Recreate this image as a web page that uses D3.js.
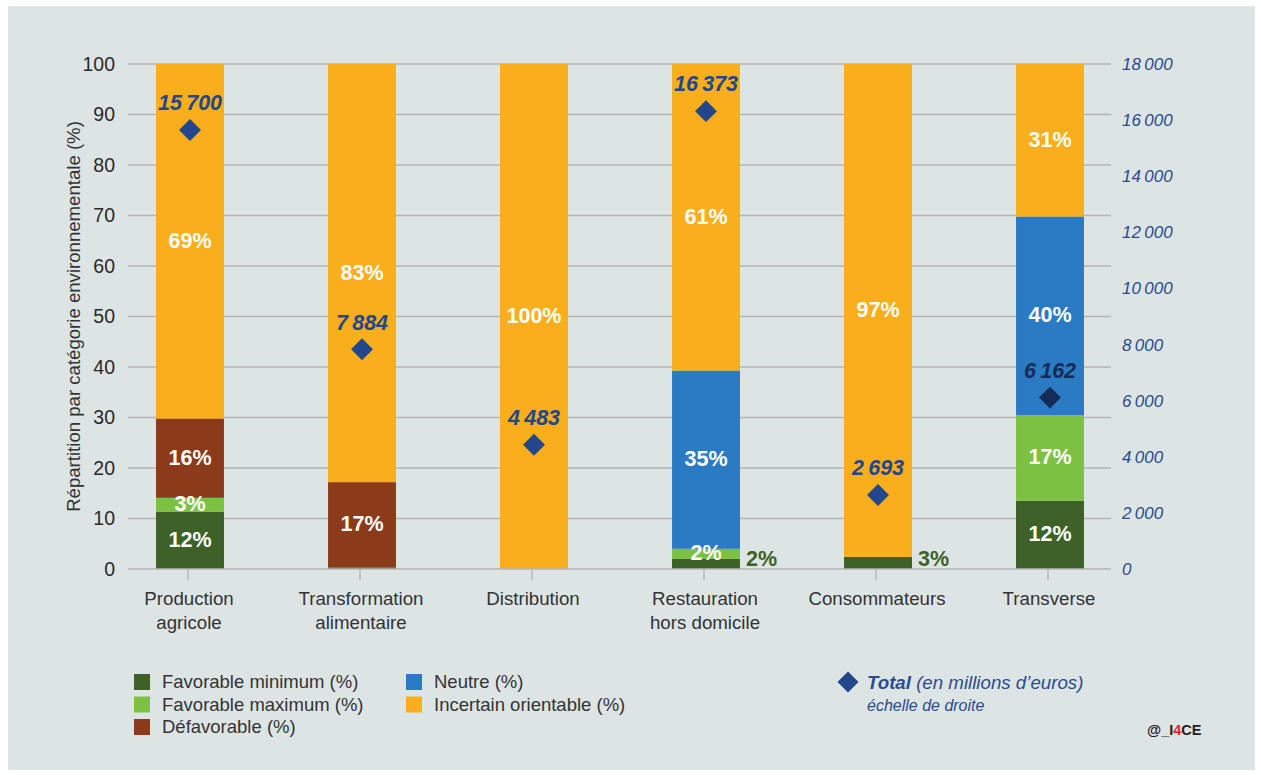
<!DOCTYPE html>
<html>
<head>
<meta charset="utf-8">
<script src="https://cdn.jsdelivr.net/npm/d3@7"></script>
<style>
html,body{margin:0;padding:0;background:#ffffff;}
svg{display:block;font-family:"Liberation Sans",Arial,Helvetica,sans-serif;}
</style>
</head>
<body>
<svg id="chart" width="1261" height="775"></svg>
<script>
// ---- Data ----
const categories = [["Production","agricole"],["Transformation","alimentaire"],["Distribution"],["Restauration","hors domicile"],["Consommateurs"],["Transverse"]];
const seriesNames = ["Favorable minimum (%)","Favorable maximum (%)","Défavorable (%)","Neutre (%)","Incertain orientable (%)"];
const favMin    = [11.3, 0.3, 0, 2.0, 2.4, 13.5];
const favMax    = [2.8, 0, 0, 2.0, 0, 17.0];
const defav     = [15.7, 16.9, 0, 0, 0, 0];
const neutre    = [0, 0, 0, 35.3, 0, 39.3];
const incertain = [70.2, 82.8, 100, 60.7, 97.6, 30.2];
const favMinLabels    = ["12%", "", "", "2%", "3%", "12%"];
const favMaxLabels    = ["3%", "", "", "2%", "", "17%"];
const defavLabels     = ["16%", "17%", "", "", "", ""];
const neutreLabels    = ["", "", "", "35%", "", "40%"];
const incertainLabels = ["69%", "83%", "100%", "61%", "97%", "31%"];
const totals = [15700, 7884, 4483, 16373, 2693, 6162];
const leftTicks = [0,10,20,30,40,50,60,70,80,90,100];
const rightTicks = [0,2000,4000,6000,8000,10000,12000,14000,16000,18000];

// ---- Styles ----
const colors = ["#3d6126","#7dc142","#8b3a1a","#2a7bc3","#f9ae1b"];
const bg = "#dde5e4";
const navy = "#23478d";
const navyDark = "#142d58";
const gridColor = "#b3b5b5";

const svg = d3.select("#chart");
svg.append("rect").attr("x",8).attr("y",6).attr("width",1247).attr("height",764).attr("fill",bg);

const gridX0 = 128, gridX1 = 1111;
const y = d3.scaleLinear().domain([0,100]).range([569,64]);
const yR = d3.scaleLinear().domain([0,18000]).range([569,64]);
const x = d3.scaleBand().domain(d3.range(categories.length)).range([104,1136]).paddingInner(0.605).paddingOuter(0.3025);

// gridlines
svg.append("g").selectAll("line").data(leftTicks.filter(d=>d>0)).join("line")
  .attr("x1",gridX0).attr("x2",gridX1).attr("y1",d=>y(d)).attr("y2",d=>y(d))
  .attr("stroke",gridColor).attr("stroke-width",1.4);

// left axis labels
const leftAxis = d3.axisLeft(y).tickValues(leftTicks).tickSize(0).tickPadding(0);
const gL = svg.append("g").attr("transform",`translate(${gridX0-13},0)`).call(leftAxis);
gL.select(".domain").remove();
gL.selectAll("text").attr("font-size",19.5).attr("fill","#2a2a2a").attr("font-family","Liberation Sans, Arial, sans-serif");

// right axis labels
const rightAxis = d3.axisRight(yR).tickValues(rightTicks).tickSize(0).tickPadding(0)
  .tickFormat(d => d3.format(",")(d).replace(/,/g,"\u202F"));
const gR = svg.append("g").attr("transform",`translate(1122,0)`).call(rightAxis);
gR.select(".domain").remove();
gR.selectAll("text").attr("font-size",17).attr("fill","#2b4b8f").attr("font-style","italic").attr("font-family","Liberation Sans, Arial, sans-serif");

// stacked bars
const rows = categories.map((c,i)=>({i, v:[favMin[i],favMax[i],defav[i],neutre[i],incertain[i]]}));
const labelsBySeries = [favMinLabels,favMaxLabels,defavLabels,neutreLabels,incertainLabels];
const stack = d3.stack().keys([0,1,2,3,4]).value((d,k)=>d.v[k]);
const stacked = stack(rows);

const gBars = svg.append("g");
stacked.forEach((layer,k)=>{
  gBars.selectAll(null).data(layer.filter(d=>d[1]-d[0]>0)).join("rect")
    .attr("x",d=>x(d.data.i)).attr("width",x.bandwidth())
    .attr("y",d=>y(d[1])).attr("height",d=>y(d[0])-y(d[1]))
    .attr("fill",colors[k]);
});

// x axis line & ticks
svg.append("line").attr("x1",gridX0).attr("x2",gridX1).attr("y1",y(0)).attr("y2",y(0)).attr("stroke",gridColor).attr("stroke-width",1.4);
const xAxis = d3.axisBottom(x).tickSize(11).tickFormat("");
const gX = svg.append("g").attr("transform",`translate(-2,${y(0)})`).call(xAxis);
gX.select(".domain").remove();
gX.selectAll("line").attr("stroke",gridColor).attr("stroke-width",1.4);

// category labels
const gC = svg.append("g");
categories.forEach((lines,i)=>{
  const t = gC.append("text").attr("x",x(i)+x.bandwidth()/2-1).attr("y",605)
    .attr("text-anchor","middle").attr("font-size",18.7).attr("fill","#333");
  lines.forEach((l,j)=>t.append("tspan").attr("x",x(i)+x.bandwidth()/2-1).attr("dy",j===0?0:23.5).text(l));
});

// segment labels
const gLab = svg.append("g").attr("font-weight","bold").attr("font-size",21.5);
stacked.forEach((layer,k)=>{
  layer.forEach(d=>{
    const lab = labelsBySeries[k][d.data.i];
    if(!lab) return;
    const h = d[1]-d[0];
    if(k===0 && h<5){
      gLab.append("text").attr("x",x(d.data.i)+x.bandwidth()+6).attr("y",y(d[0])-11)
        .attr("dy","0.36em").attr("fill",colors[0]).text(lab);
    } else {
      gLab.append("text").attr("x",x(d.data.i)+x.bandwidth()/2).attr("y",y((d[0]+d[1])/2))
        .attr("text-anchor","middle").attr("dy","0.3em").attr("fill","#ffffff").text(lab);
    }
  });
});

// totals (diamonds)
const diamond = d3.symbol().type(d3.symbolSquare).size(240);
const gT = svg.append("g");
totals.forEach((t,i)=>{
  const cx = x(i)+x.bandwidth()/2, cy = yR(t);
  const pct = t/18000*100;
  const inNeutre = pct > stacked[3][i][0] && pct < stacked[3][i][1] && neutre[i] > 0;
  const col = inNeutre ? navyDark : navy;
  gT.append("path").attr("d",diamond).attr("transform",`translate(${cx},${cy+1.5}) rotate(45)`).attr("fill",col);
  gT.append("text").attr("x",cx).attr("y",cy-26).attr("text-anchor","middle").attr("dy","0.36em")
    .attr("font-size",21.5).attr("font-weight","bold").attr("font-style","italic").attr("fill",col)
    .attr("letter-spacing",-0.6)
    .text(d3.format(",")(t).replace(/,/g,"\u202F"));
});

// y axis title
svg.append("text").attr("transform",`translate(80,${y(50)}) rotate(-90)`).attr("text-anchor","middle")
  .attr("font-size",18.6).attr("fill","#333").text("Répartition par catégorie environnementale (%)");

// legend
const legendPos = [[134,682],[134,704.5],[134,727],[406,682],[406,704.5]];
const gLeg = svg.append("g");
seriesNames.forEach((n,k)=>{
  const [lx,ly] = legendPos[k];
  gLeg.append("rect").attr("x",lx).attr("y",ly-8).attr("width",16).attr("height",16).attr("fill",colors[k]);
  gLeg.append("text").attr("x",lx+28).attr("y",ly).attr("dy","0.35em")
    .attr("font-size",18.5).attr("fill","#333").text(n);
});
gLeg.append("path").attr("d",d3.symbol().type(d3.symbolSquare).size(220)).attr("transform","translate(848,682) rotate(45)").attr("fill",navy);
const tt = gLeg.append("text").attr("x",867).attr("y",682).attr("dy","0.35em").attr("font-size",18.7).attr("font-style","italic").attr("fill","#2b4b8f");
tt.append("tspan").attr("font-weight","bold").text("Total");
tt.append("tspan").text(" (en millions d\u2019euros)");
gLeg.append("text").attr("x",867).attr("y",705).attr("dy","0.35em").attr("font-size",16).attr("font-style","italic").attr("fill","#2b4b8f").text("échelle de droite");

const cr = svg.append("text").attr("x",1147).attr("y",730).attr("dy","0.35em").attr("font-size",14.5).attr("font-weight","bold").attr("fill","#222");
cr.append("tspan").text("@_I");
cr.append("tspan").attr("fill","#e3232a").text("4");
cr.append("tspan").text("CE");
</script>
</body>
</html>
